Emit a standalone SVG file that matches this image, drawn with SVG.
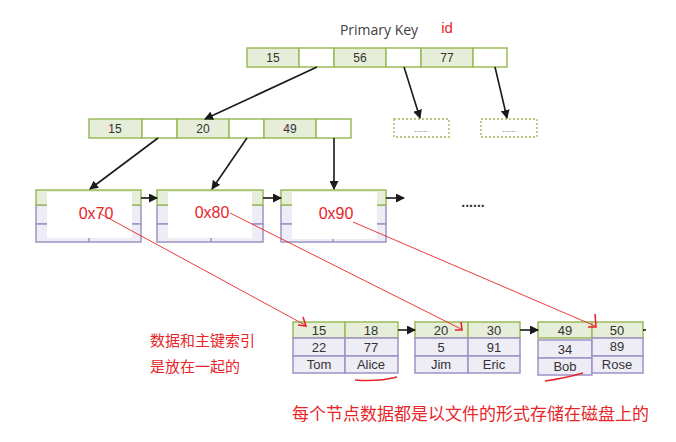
<svg xmlns="http://www.w3.org/2000/svg" width="676" height="442" viewBox="0 0 676 442">
<style>
.g{fill:#e6edd8;stroke:#9bbb59;stroke-width:1.5}
.w{fill:#ffffff;stroke:#9bbb59;stroke-width:1.5}
.p{fill:#eeecf5;stroke:#9d93c6;stroke-width:1.5}
.t{font-family:"Liberation Sans",Arial,sans-serif;font-size:12px;fill:#333;text-anchor:middle}
.t2{font-family:"Liberation Sans",Arial,sans-serif;font-size:13px;fill:#333;text-anchor:middle}
.red{font-family:"Liberation Sans","Noto Sans CJK SC",sans-serif;fill:#e8262a}
.addr{font-family:"Liberation Sans",Arial,sans-serif;font-size:16px;fill:#e8262a;text-anchor:middle}
.c{stroke:#1a1a1a;stroke-width:1.6;fill:none}
.r{stroke:#e8262a;stroke-width:0.9;fill:none}
.rh{stroke:#e8262a;stroke-width:1.6;fill:none}
.dash{fill:#fff;stroke:#9bbb59;stroke-width:1.3;stroke-dasharray:2 2}
</style>
<defs>
<marker id="ah" markerWidth="9" markerHeight="9" refX="8" refY="4.5" orient="auto" markerUnits="userSpaceOnUse">
<path d="M0,0 L9,4.5 L0,9 Z" fill="#1a1a1a"/>
</marker>
</defs>

<g id="title">
<text x="379" y="35" font-family="Open Sans,Liberation Sans,sans-serif" font-size="14" fill="#404040" text-anchor="middle">Primary Key</text>
<text x="447" y="33" font-family="Liberation Sans,sans-serif" font-size="15" fill="#e8262a" text-anchor="middle">id</text>
</g>

<g id="root">
<rect class="g" x="247" y="48" width="52" height="19"/>
<rect class="w" x="299" y="48" width="35" height="19"/>
<rect class="g" x="334" y="48" width="52" height="19"/>
<rect class="w" x="386" y="48" width="35" height="19"/>
<rect class="g" x="421" y="48" width="52" height="19"/>
<rect class="w" x="473" y="48" width="34" height="19"/>
<text class="t" x="273" y="62">15</text>
<text class="t" x="360" y="62">56</text>
<text class="t" x="447" y="62">77</text>
</g>

<g id="inner">
<rect class="g" x="89" y="119" width="53" height="19"/>
<rect class="w" x="142" y="119" width="35" height="19"/>
<rect class="g" x="177" y="119" width="52" height="19"/>
<rect class="w" x="229" y="119" width="35" height="19"/>
<rect class="g" x="264" y="119" width="52" height="19"/>
<rect class="w" x="316" y="119" width="35" height="19"/>
<text class="t" x="115" y="133">15</text>
<text class="t" x="203" y="133">20</text>
<text class="t" x="290" y="133">49</text>
</g>

<g id="more1">
<rect class="dash" x="394" y="119" width="55" height="18"/>
<text x="421" y="132" font-family="Liberation Sans,sans-serif" font-size="8" fill="#444" text-anchor="middle">......</text>
</g>
<g id="more2">
<rect class="dash" x="481" y="119" width="56" height="18"/>
<text x="509" y="132" font-family="Liberation Sans,sans-serif" font-size="8" fill="#444" text-anchor="middle">......</text>
</g>

<g id="page70">
<rect class="p" x="36" y="205" width="105" height="19"/>
<rect class="p" x="36" y="224" width="105" height="18"/>
<line x1="89" y1="224" x2="89" y2="242" stroke="#9d93c6" stroke-width="1.5"/>
<rect class="g" x="36" y="190" width="105" height="15"/>
<rect x="47" y="192" width="85" height="46" fill="#fff"/>
<text class="addr" x="96" y="219">0x70</text>
</g>
<g id="page80">
<rect class="p" x="157" y="205" width="106" height="19"/>
<rect class="p" x="157" y="224" width="106" height="18"/>
<line x1="211" y1="224" x2="211" y2="242" stroke="#9d93c6" stroke-width="1.5"/>
<rect class="g" x="157" y="190" width="106" height="15"/>
<rect x="168" y="192" width="84" height="46" fill="#fff"/>
<text class="addr" x="212" y="218">0x80</text>
</g>
<g id="page90">
<rect class="p" x="281" y="205" width="105" height="19"/>
<rect class="p" x="281" y="224" width="105" height="18"/>
<line x1="333" y1="224" x2="333" y2="242" stroke="#9d93c6" stroke-width="1.5"/>
<rect class="g" x="281" y="190" width="105" height="15"/>
<rect x="292" y="192" width="85" height="47" fill="#fff"/>
<text class="addr" x="336" y="219">0x90</text>
</g>
<g id="ellipsis">
<text x="473" y="207" font-family="Liberation Sans,sans-serif" font-size="14" font-weight="bold" fill="#333" text-anchor="middle">......</text>
</g>

<g id="leaf1">
<rect class="g" x="293" y="322" width="52" height="16"/>
<rect class="g" x="345" y="322" width="53" height="16"/>
<rect class="p" x="293" y="338" width="52" height="18"/>
<rect class="p" x="345" y="338" width="53" height="18"/>
<rect class="p" x="293" y="356" width="52" height="17"/>
<rect class="p" x="345" y="356" width="53" height="17"/>
<text class="t2" x="319" y="334.5">15</text>
<text class="t2" x="371" y="334.5">18</text>
<text class="t2" x="319" y="352">22</text>
<text class="t2" x="371" y="352">77</text>
<text class="t2" x="319" y="369">Tom</text>
<text class="t2" x="371" y="369">Alice</text>
</g>
<g id="leaf2">
<rect class="g" x="415" y="322" width="53" height="16"/>
<rect class="g" x="468" y="322" width="52" height="16"/>
<rect class="p" x="415" y="338" width="53" height="18"/>
<rect class="p" x="468" y="338" width="52" height="18"/>
<rect class="p" x="415" y="356" width="53" height="17"/>
<rect class="p" x="468" y="356" width="52" height="17"/>
<text class="t2" x="441" y="334.5">20</text>
<text class="t2" x="494" y="334.5">30</text>
<text class="t2" x="441" y="352">5</text>
<text class="t2" x="494" y="352">91</text>
<text class="t2" x="441" y="369">Jim</text>
<text class="t2" x="494" y="369">Eric</text>
</g>
<g id="leaf3">
<rect class="g" x="538" y="322" width="54" height="16"/>
<rect class="g" x="592" y="322" width="51" height="16"/>
<rect class="p" x="538" y="340" width="54" height="18"/>
<rect class="p" x="538" y="358" width="54" height="17"/>
<rect class="p" x="592" y="338" width="51" height="18"/>
<rect class="p" x="592" y="356" width="51" height="17"/>
<text class="t2" x="565" y="334.5">49</text>
<text class="t2" x="617" y="334.5">50</text>
<text class="t2" x="565" y="354">34</text>
<text class="t2" x="617" y="351">89</text>
<text class="t2" x="565" y="371">Bob</text>
<text class="t2" x="617" y="369">Rose</text>
</g>

<g id="notes">
<text class="red" x="150" y="346" font-size="15">数据和主键索引</text>
<text class="red" x="150" y="372" font-size="15">是放在一起的</text>
<text class="red" x="292" y="420" font-size="17">每个节点数据都是以文件的形式存储在磁盘上的</text>
</g>

<g id="connectors">
<line class="c" x1="317" y1="67" x2="205" y2="119" marker-end="url(#ah)"/>
<line class="c" x1="404" y1="67" x2="420" y2="118" marker-end="url(#ah)"/>
<line class="c" x1="495" y1="67" x2="507" y2="118" marker-end="url(#ah)"/>
<line class="c" x1="158" y1="138" x2="90" y2="189" marker-end="url(#ah)"/>
<line class="c" x1="247" y1="138" x2="212" y2="189" marker-end="url(#ah)"/>
<line class="c" x1="334" y1="138" x2="334" y2="189" marker-end="url(#ah)"/>
<line class="c" x1="141" y1="198" x2="157" y2="198" marker-end="url(#ah)"/>
<line class="c" x1="263" y1="198" x2="281" y2="198" marker-end="url(#ah)"/>
<line class="c" x1="386" y1="198" x2="404" y2="198" marker-end="url(#ah)"/>
<line class="c" x1="398" y1="330" x2="415" y2="330" marker-end="url(#ah)"/>
<line class="c" x1="520" y1="330" x2="538" y2="330" marker-end="url(#ah)"/>
<line class="c" x1="643" y1="330" x2="646" y2="330"/>
<line class="r" x1="99" y1="213" x2="305" y2="325"/>
<line class="r" x1="230" y1="213" x2="461" y2="329"/>
<line class="r" x1="353" y1="222" x2="595" y2="326"/>
<polyline class="rh" points="303,317 306,326 298,325"/>
<polyline class="rh" points="461,322 462,330 455,330"/>
<polyline class="rh" points="595,314 596,327 588,327"/>
<path class="rh" d="M355,380 Q378,382 397,377"/>
<path class="rh" d="M545,381 Q566,378 583,373"/>
</g>
</svg>
